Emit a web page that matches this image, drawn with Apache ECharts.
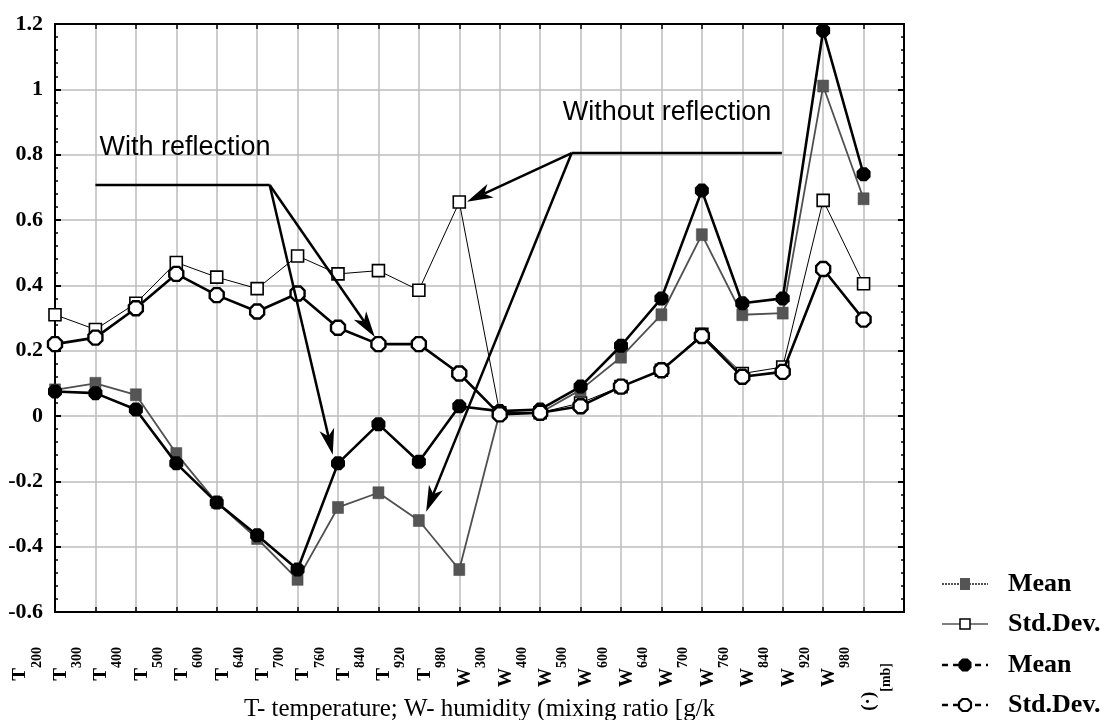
<!DOCTYPE html>
<html>
<head>
<meta charset="utf-8">
<script src="https://cdn.jsdelivr.net/npm/echarts@6/dist/echarts.min.js"></script>
<style>
  html, body { margin: 0; padding: 0; background: #fff; }
  #chart { width: 1111px; height: 720px; }
</style>
</head>
<body>
<div id="chart"></div>
<script>
// Pressure levels: T = temperature, W = humidity, last slot is the unit label
const categories = ['T200', 'T300', 'T400', 'T500', 'T600', 'T640', 'T700', 'T760', 'T840', 'T920', 'T980',
                    'W300', 'W400', 'W500', 'W600', 'W640', 'W700', 'W760', 'W840', 'W920', 'W980', '(·)[mb]'];

// Without reflection
const meanWithout = [0.08, 0.10, 0.065, -0.115, -0.265, -0.375, -0.50, -0.28, -0.235, -0.32, -0.47,
                     0.01, 0.01, 0.08, 0.18, 0.31, 0.555, 0.31, 0.315, 1.01, 0.665];
const stdWithout  = [0.31, 0.265, 0.345, 0.47, 0.425, 0.39, 0.49, 0.435, 0.445, 0.385, 0.655,
                     0.01, 0.01, 0.04, 0.09, 0.14, 0.25, 0.13, 0.15, 0.66, 0.405];
// With reflection
const meanWith    = [0.075, 0.07, 0.02, -0.145, -0.265, -0.365, -0.47, -0.145, -0.025, -0.14, 0.03,
                     0.015, 0.02, 0.09, 0.215, 0.36, 0.69, 0.345, 0.36, 1.18, 0.74];
const stdWith     = [0.22, 0.24, 0.33, 0.435, 0.37, 0.32, 0.375, 0.27, 0.22, 0.22, 0.13,
                     0.005, 0.01, 0.03, 0.09, 0.14, 0.245, 0.12, 0.135, 0.45, 0.295];

// Value axis range
const yMin = -0.6, yMax = 1.2, yStep = 0.2;

// Callout labels and leader lines, in (level index, value) units
const calloutTexts = [
  { text: 'With reflection',    at: [1.10, 0.822] },
  { text: 'Without reflection', at: [12.56, 0.928] }
];
// [x1, y1, x2, y2, arrowhead]
const calloutLines = [
  [1.0, 0.707, 5.31, 0.707, 0],
  [5.31, 0.707, 6.87, -0.119, 1],
  [5.31, 0.707, 7.91, 0.242, 1],
  [12.78, 0.805, 17.98, 0.805, 0],
  [12.78, 0.805, 10.19, 0.656, 1],
  [12.78, 0.805, 9.18, -0.293, 1]
];

const serif = '"Liberation Serif", "Times New Roman", serif';
const sans = '"Liberation Sans", Arial, sans-serif';
const octagon = 'path://M29,0 L71,0 L100,29 L100,71 L71,100 L29,100 L0,71 L0,29 Z';
const gridColor = '#bdbdbd';

function octPoints(cx, cy, r) {
  const k = 0.42 * r;
  return [[cx - k, cy - r], [cx + k, cy - r], [cx + r, cy - k], [cx + r, cy + k],
          [cx + k, cy + r], [cx - k, cy + r], [cx - r, cy + k], [cx - r, cy - k]];
}

function levelLabel(v) {
  if (v.charAt(0) === '(') return '{t|(·)}{m|[mb]}';
  return '{t|' + v.charAt(0) + '}{s|' + v.slice(1) + '}';
}

const chart = echarts.init(document.getElementById('chart'), null, { renderer: 'canvas' });

// Legend drawn as graphic rows
const legendRows = [
  { y: 584, text: 'Mean' },
  { y: 624, text: 'Std.Dev.' },
  { y: 665, text: 'Mean' },
  { y: 705, text: 'Std.Dev.' }
];
const lx0 = 942, lx1 = 988, lmx = 965, ltx = 1008;
const legendGraphics = [];
legendRows.forEach(function (r, i) {
  let lineStyle;
  if (i === 0) lineStyle = { stroke: '#555', lineWidth: 2, lineDash: [2, 1] };
  else if (i === 1) lineStyle = { stroke: '#000', lineWidth: 1.2 };
  else lineStyle = { stroke: '#000', lineWidth: 2.5, lineDash: [6, 5] };
  legendGraphics.push({ type: 'line', shape: { x1: lx0, y1: r.y, x2: lx1, y2: r.y }, style: lineStyle, silent: true });
  if (i === 0) {
    legendGraphics.push({ type: 'rect', shape: { x: lmx - 5, y: r.y - 6, width: 10, height: 12 }, style: { fill: '#555' } });
  } else if (i === 1) {
    legendGraphics.push({ type: 'rect', shape: { x: lmx - 5, y: r.y - 5, width: 10, height: 10 }, style: { fill: '#fff', stroke: '#000', lineWidth: 1.5 } });
  } else if (i === 2) {
    legendGraphics.push({ type: 'polygon', shape: { points: octPoints(lmx, r.y, 6.5) }, style: { fill: '#000' } });
  } else {
    legendGraphics.push({ type: 'polygon', shape: { points: octPoints(lmx, r.y, 6) }, style: { fill: '#fff', stroke: '#000', lineWidth: 2.2 } });
  }
  legendGraphics.push({
    type: 'text', x: ltx, y: r.y,
    style: { text: r.text, font: 'bold 26px ' + serif, fill: '#000', verticalAlign: 'middle', align: 'left' }
  });
});

const option = {
  animation: false,
  backgroundColor: '#fff',
  grid: {
    left: 55, right: 207, top: 24, bottom: 108, containLabel: false, outerBoundsMode: 'none',
    show: true, borderColor: '#000', borderWidth: 2, backgroundColor: 'transparent'
  },
  xAxis: [
    {
      type: 'category', data: categories, boundaryGap: false, position: 'bottom',
      name: 'T- temperature; W- humidity (mixing ratio [g/k', nameLocation: 'middle', nameGap: 85,
      nameMoveOverlap: false,
      nameTextStyle: { fontFamily: serif, fontSize: 25, color: '#000' },
      axisLine: { onZero: false, lineStyle: { color: '#000', width: 2 } },
      axisTick: { inside: true, length: 5, interval: 0, lineStyle: { color: '#000', width: 1.5 } },
      axisLabel: {
        interval: 0, rotate: 90, margin: 35, color: '#000', padding: [0, 0, 55, 0],
        formatter: levelLabel,
        rich: {
          t: { fontFamily: serif, fontWeight: 'bold', fontSize: 19, lineHeight: 19, verticalAlign: 'top', color: '#000' },
          s: { fontFamily: serif, fontWeight: 'bold', fontSize: 14, lineHeight: 33, verticalAlign: 'bottom', color: '#000' },
          m: { fontFamily: serif, fontWeight: 'bold', fontSize: 14, lineHeight: 33, verticalAlign: 'bottom', color: '#000', padding: [0, 16, 0, 0] }
        }
      },
      splitLine: { show: true, interval: 0, lineStyle: { color: gridColor, width: 1.5 } }
    },
    { type: 'value', min: 0, max: categories.length - 1, show: false, position: 'bottom' },
    {
      type: 'category', data: categories, boundaryGap: false, position: 'top',
      axisLine: { onZero: false, lineStyle: { color: '#000', width: 2 } },
      axisTick: { inside: true, length: 5, interval: 0, lineStyle: { color: '#000', width: 1.5 } },
      axisLabel: { show: false }, splitLine: { show: false }
    }
  ],
  yAxis: [
    {
      type: 'value', min: yMin, max: yMax, interval: yStep, position: 'left',
      axisLine: { show: true, onZero: false, lineStyle: { color: '#000', width: 2 } },
      axisTick: { show: true, inside: true, length: 6, lineStyle: { color: '#000', width: 2 } },
      minorTick: { show: true, splitNumber: 5, length: 3, lineStyle: { color: '#000', width: 1.5 } },
      axisLabel: { fontFamily: serif, fontWeight: 'bold', fontSize: 22, color: '#000', margin: 12 },
      splitLine: { show: true, lineStyle: { color: gridColor, width: 1.5 } }
    },
    {
      type: 'value', min: yMin, max: yMax, interval: yStep, position: 'right',
      axisLine: { show: true, onZero: false, lineStyle: { color: '#000', width: 2 } },
      axisTick: { show: true, inside: true, length: 6, lineStyle: { color: '#000', width: 2 } },
      minorTick: { show: true, splitNumber: 5, length: 3, lineStyle: { color: '#000', width: 1.5 } },
      axisLabel: { show: false }, splitLine: { show: false }
    }
  ],
  series: [
    {
      name: 'Mean', type: 'line', data: meanWithout, z: 3, showAllSymbol: true,
      symbol: 'rect', symbolSize: [11, 12],
      itemStyle: { color: '#555', borderColor: '#444', borderWidth: 0.5 },
      lineStyle: { color: '#505050', width: 1.8 }
    },
    {
      name: 'Std.Dev.', type: 'line', data: stdWithout, z: 3, showAllSymbol: true,
      symbol: 'rect', symbolSize: 12,
      itemStyle: { color: '#fff', borderColor: '#000', borderWidth: 1.6 },
      lineStyle: { color: '#000', width: 1 }
    },
    {
      name: 'Mean', type: 'line', data: meanWith, z: 4, showAllSymbol: true,
      symbol: octagon, symbolSize: 14,
      itemStyle: { color: '#000' },
      lineStyle: { color: '#000', width: 2.6 }
    },
    {
      name: 'Std.Dev.', type: 'line', data: stdWith, z: 4, showAllSymbol: true,
      symbol: octagon, symbolSize: 14,
      itemStyle: { color: '#fff', borderColor: '#000', borderWidth: 2.4 },
      lineStyle: { color: '#000', width: 2.6 }
    },
    {
      // leader lines with arrowheads
      type: 'custom', xAxisIndex: 1, yAxisIndex: 0, z: 6, silent: true,
      data: calloutLines,
      encode: { x: [0, 2], y: [1, 3] },
      renderItem: function (params, api) {
        const p1 = api.coord([api.value(0), api.value(1)]);
        const p2 = api.coord([api.value(2), api.value(3)]);
        const arrow = api.value(4) === 1;
        if (!arrow) {
          return { type: 'line', shape: { x1: p1[0], y1: p1[1], x2: p2[0], y2: p2[1] }, style: { stroke: '#000', lineWidth: 2.5 } };
        }
        const dx = p2[0] - p1[0], dy = p2[1] - p1[1];
        const len = Math.sqrt(dx * dx + dy * dy);
        const ux = dx / len, uy = dy / len, nx = -uy, ny = ux;
        const L = 26, W = 7.5, N = 19;
        const bx = p2[0] - ux * L, by = p2[1] - uy * L;
        const mx = p2[0] - ux * N, my = p2[1] - uy * N;
        return {
          type: 'group',
          children: [
            { type: 'line', shape: { x1: p1[0], y1: p1[1], x2: mx, y2: my }, style: { stroke: '#000', lineWidth: 2.5 } },
            { type: 'polygon', shape: { points: [[p2[0], p2[1]], [bx + nx * W, by + ny * W], [mx, my], [bx - nx * W, by - ny * W]] }, style: { fill: '#000' } }
          ]
        };
      }
    },
    {
      // callout captions
      type: 'custom', xAxisIndex: 1, yAxisIndex: 0, z: 6, silent: true,
      data: calloutTexts.map(function (c) { return c.at; }),
      encode: { x: 0, y: 1 },
      renderItem: function (params, api) {
        const p = api.coord([api.value(0), api.value(1)]);
        return {
          type: 'text', x: p[0], y: p[1],
          style: { text: calloutTexts[params.dataIndex].text, font: '27px ' + sans, fill: '#000', align: 'left', verticalAlign: 'middle' }
        };
      }
    }
  ],
  graphic: legendGraphics
};

chart.setOption(option);
</script>
</body>
</html>
